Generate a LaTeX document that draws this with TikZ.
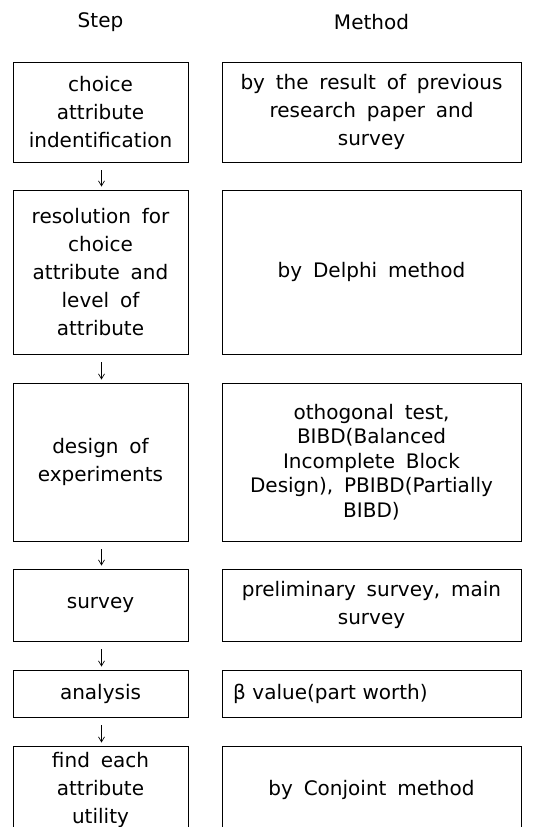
\documentclass[tikz,border=0pt]{standalone}
\usepackage{fontspec}
\setmainfont[WordSpace=1.7]{DejaVu Sans}
\usetikzlibrary{arrows.meta}
\begin{document}
\begin{tikzpicture}[x=1pt,y=-1pt,
  box/.style={draw=black, line width=0.9pt, inner sep=0pt, align=center, font=\fontsize{20}{28}\selectfont},
  sbox/.style={box, minimum width=175pt},
  mbox/.style={box, minimum width=299pt},
  head/.style={font=\fontsize{20}{22}\selectfont},
  conn/.style={-{Straight Barb[length=5pt,width=6pt]}, line width=0.7pt, shorten <=8pt, shorten >=3pt}]
\useasboundingbox (0,0) rectangle (537,827);
\clip (0,0) rectangle (537,827);
\node[head] (hs) at (100.5,22) {Step};
\node[head] (hm) at (371.5,22) {Method};
% row 1
\node[sbox, minimum height=100pt] (s1) at (100.5,112) {choice\\attribute\\indentification};
\node[mbox, minimum height=100pt] (m1) at (371.5,112) {by the result of previous\\research paper and\\survey};
% row 2
\node[sbox, minimum height=164pt] (s2) at (100.5,272) {resolution for\\choice\\attribute and\\level of\\attribute};
\node[mbox, minimum height=164pt] (m2) at (371.5,272) {by Delphi method};
% row 3
\node[sbox, minimum height=158pt] (s3) at (100.5,462) {design of\\experiments};
\node[mbox, minimum height=158pt, font=\fontsize{20}{24.5}\selectfont] (m3) at (371.5,462) {othogonal test,\\BIBD(Balanced\\Incomplete Block\\Design), PBIBD(Partially\\BIBD)};
% row 4
\node[sbox, minimum height=72pt] (s4) at (100.5,605) {survey};
\node[mbox, minimum height=72pt] (m4) at (371.5,605) {preliminary survey, main\\survey};
% row 5
\node[sbox, minimum height=47pt] (s5) at (100.5,693.5) {analysis};
\node[mbox, minimum height=47pt, align=left, text width=277pt] (m5) at (371.5,693.5) {β value(part worth)};
% row 6
\node[sbox, minimum height=88pt] (s6) at (100.5,790) {find each\\attribute\\utility};
\node[mbox, minimum height=88pt] (m6) at (371.5,790) {by Conjoint method};
% connectors
\path (s1.south) ++(1,0) coordinate (a1) (s2.north) ++(1,0) coordinate (b1);
\draw[conn] (a1) -- (b1);
\path (s2.south) ++(1,0) coordinate (a2) (s3.north) ++(1,0) coordinate (b2);
\draw[conn] (a2) -- (b2);
\path (s3.south) ++(1,0) coordinate (a3) (s4.north) ++(1,0) coordinate (b3);
\draw[conn] (a3) -- (b3);
\path (s4.south) ++(1,0) coordinate (a4) (s5.north) ++(1,0) coordinate (b4);
\draw[conn] (a4) -- (b4);
\path (s5.south) ++(1,0) coordinate (a5) (s6.north) ++(1,0) coordinate (b5);
\draw[conn] (a5) -- (b5);
\end{tikzpicture}
\end{document}
